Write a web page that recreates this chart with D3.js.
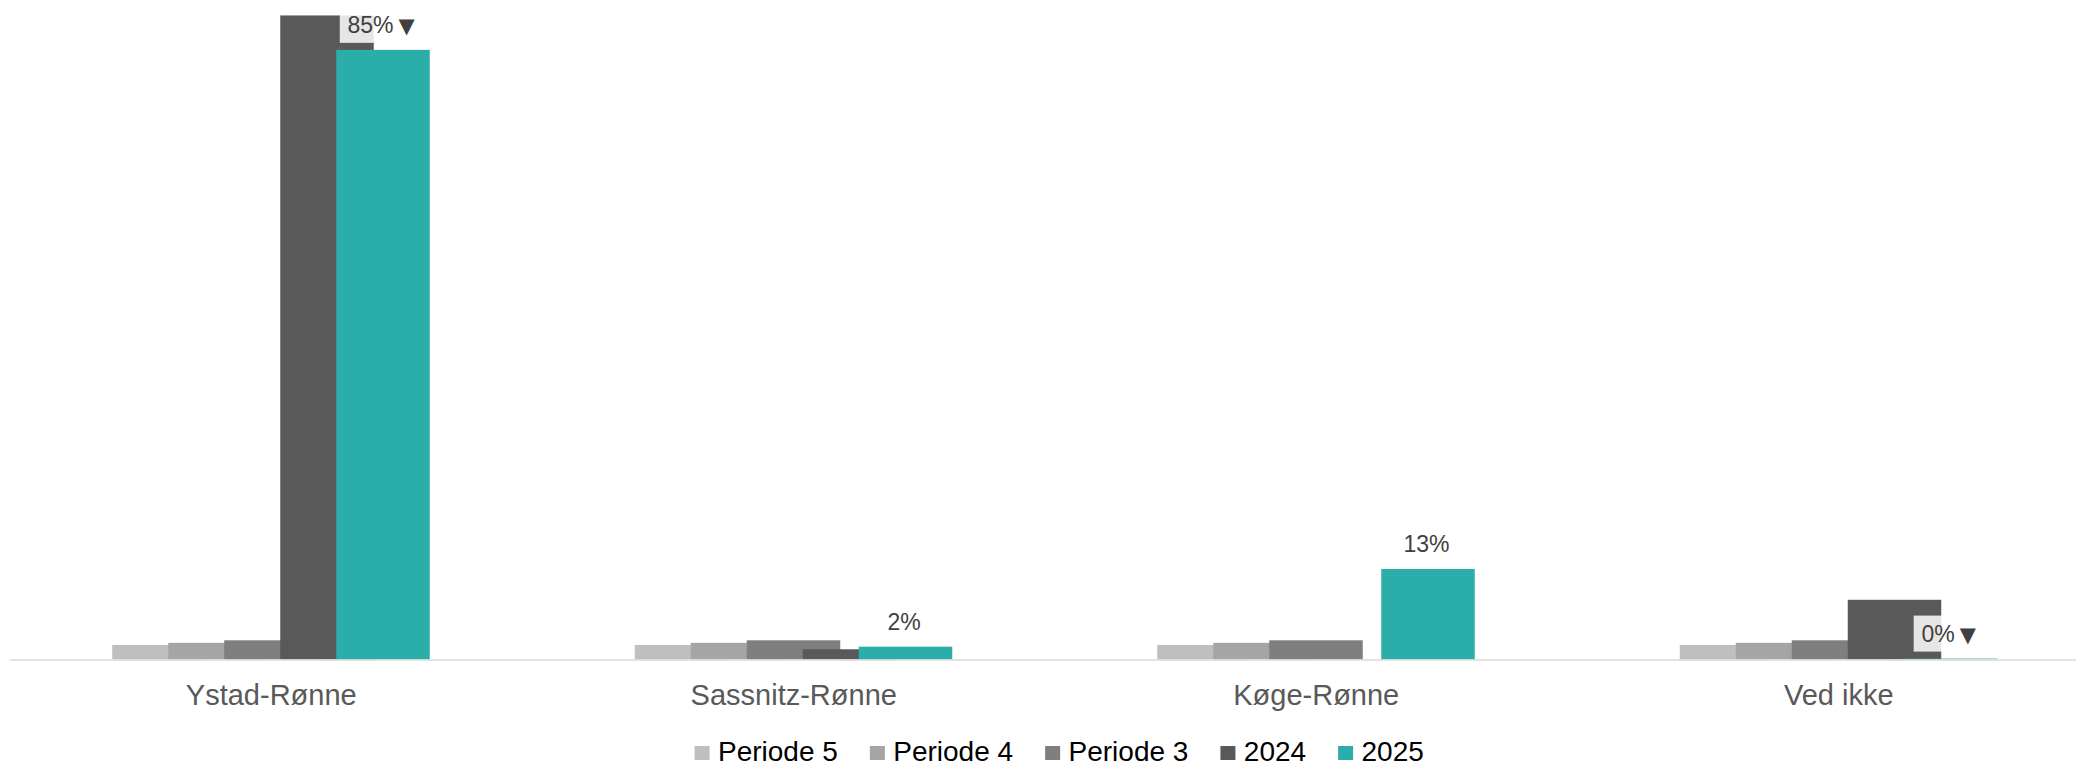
<!DOCTYPE html>
<html>
<head>
<meta charset="utf-8">
<script src="https://cdn.jsdelivr.net/npm/d3@7"></script>
<style>
  html, body { margin: 0; padding: 0; background: #fff; }
  svg { display: block; font-family: "Liberation Sans", Arial, sans-serif; }
</style>
</head>
<body>
<svg id="chart" width="2076" height="766"></svg>
<script>
// ---- data ----
const categories = ["Ystad-Rønne", "Sassnitz-Rønne", "Køge-Rønne", "Ved ikke"];
const seriesNames = ["Periode 5", "Periode 4", "Periode 3", "2024", "2025"];
const periode5 = [2.0, 2.0, 2.0, 2.0];
const periode4 = [2.3, 2.3, 2.3, 2.3];
const periode3 = [2.65, 2.65, 2.65, 2.65];
const y2024 = [89.8, 1.4, 0, 8.3];
const y2025 = [85, 1.76, 12.6, 0.1];
const sigFlags = ["▼", "", "", "▼"];   // significance marks on 2025 labels
const colors = ["#bfbfbf", "#a5a5a5", "#7f7f7f", "#595959", "#2badaa"];

const seriesValues = [periode5, periode4, periode3, y2024, y2025];

// ---- layout ----
const svg = d3.select("#chart");
const baseY = 659.3;
const x0 = d3.scaleBand().domain(categories).range([10, 2100]);
const xs = d3.scalePoint().domain(seriesNames).range([-159, 65]);
const barW = 93.5;
const y = d3.scaleLinear().domain([0, 100]).range([baseY, baseY - 717]);
const center = c => x0(c) + x0.bandwidth() / 2;

// bars, series by series (later series overlap earlier ones)
seriesNames.forEach((s, si) => {
  svg.append("g").selectAll("rect")
    .data(categories.map((c, i) => ({ c, v: seriesValues[si][i] })))
    .join("rect")
    .attr("x", d => center(d.c) + xs(s))
    .attr("width", barW)
    .attr("y", d => y(d.v))
    .attr("height", d => y(0) - y(d.v))
    .attr("fill", colors[si]);
});

// baseline
svg.append("line")
  .attr("x1", 10).attr("x2", 2076)
  .attr("y1", baseY + 0.7).attr("y2", baseY + 0.7)
  .attr("stroke", "#d9d9d9").attr("stroke-width", 1.6);

// data labels for 2025
const fmt = d3.format(".0f");
const lblG = svg.append("g");
categories.forEach((c, i) => {
  const v = y2025[i];
  const cx = center(c) + xs("2025") + barW / 2;
  const base = y(v) - 17;
  const g = lblG.append("g");
  const rect = g.append("rect");
  const t = g.append("text")
    .attr("y", base)
    .attr("font-size", 23)
    .attr("fill", "#404040");
  t.append("tspan").text(fmt(v) + "%");
  if (sigFlags[i]) {
    t.append("tspan").attr("dx", 5)
      .attr("font-family", "'DejaVu Sans', sans-serif")
      .attr("font-size", 21).text(sigFlags[i]);
  }
  const bb = t.node().getBBox();
  const left = cx - bb.width / 2 - 1.5;
  t.attr("x", left);
  if (sigFlags[i]) {
    const b2 = t.node().getBBox();
    rect.attr("x", b2.x - 7.7).attr("y", base - 26)
      .attr("width", b2.width + 15).attr("height", 36)
      .attr("fill", "#fff").attr("fill-opacity", 0.85);
  } else {
    rect.remove();
  }
});

// category labels
svg.append("g").selectAll("text")
  .data(categories)
  .join("text")
  .attr("x", d => center(d))
  .attr("y", 705)
  .attr("text-anchor", "middle")
  .attr("font-size", 29)
  .attr("fill", "#595959")
  .text(d => d);

// legend
const leg = svg.append("g");
let lx = 0;
seriesNames.forEach((s, i) => {
  const g = leg.append("g").attr("transform", `translate(${lx},0)`);
  g.append("rect").attr("x", 0).attr("y", 746).attr("width", 15).attr("height", 14)
    .attr("fill", colors[i]);
  const t = g.append("text").attr("x", 23.4).attr("y", 761)
    .attr("font-size", 28).attr("fill", "#000").text(s);
  lx += 23.4 + t.node().getComputedTextLength() + 32;
});
const legW = lx - 32;
leg.attr("transform", `translate(${1059.2 - legW / 2},0)`);
</script>
</body>
</html>
